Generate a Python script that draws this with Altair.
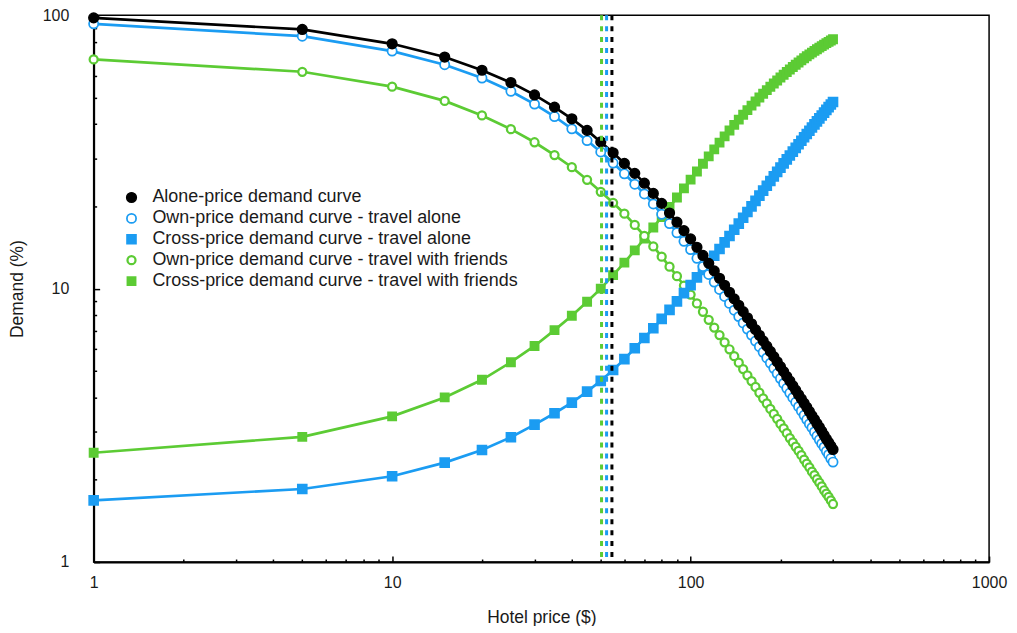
import altair as alt
import pandas as pd

# ---------------- data ----------------
prices = [1, 5, 10, 15, 20, 25, 30, 35, 40, 45, 50, 55, 60, 65, 70, 75, 80, 85, 90, 95,
          100, 105, 110, 115, 120, 125, 130, 135, 140, 145, 150, 155, 160, 165, 170, 175,
          180, 185, 190, 195, 200, 205, 210, 215, 220, 225, 230, 235, 240, 245, 250, 255,
          260, 265, 270, 275, 280, 285, 290, 295, 300]

alone_price = [97.8, 88.7, 78.6, 70.3, 62.9, 56.7, 51.1, 46.1, 41.8, 37.9, 34.4, 31.4, 28.7,
               26.4, 24.3, 22.3, 20.5, 18.9, 17.5, 16.3, 15.2,
               14.16, 13.22, 12.37, 11.61, 10.91, 10.28, 9.70, 9.17, 8.69, 8.24, 7.82, 7.44,
               7.08, 6.75, 6.44, 6.16, 5.89, 5.64, 5.40, 5.18, 4.97, 4.77, 4.59, 4.41, 4.25,
               4.09, 3.95, 3.81, 3.68, 3.55, 3.43, 3.32, 3.21, 3.11, 3.01, 2.91, 2.82, 2.74,
               2.66, 2.58]

own_alone = [93.0, 83.8, 73.9, 65.9, 58.9, 52.7, 47.3, 42.6, 38.4, 34.8, 31.6, 28.8, 26.3,
             24.1, 22.2, 20.4, 18.7, 17.3, 16.0, 14.9, 13.9,
             12.91, 12.05, 11.27, 10.57, 9.93, 9.36, 8.83, 8.34, 7.90, 7.49, 7.11, 6.76,
             6.43, 6.13, 5.85, 5.58, 5.34, 5.11, 4.89, 4.69, 4.50, 4.32, 4.15, 3.99, 3.84,
             3.70, 3.57, 3.44, 3.32, 3.20, 3.10, 2.99, 2.89, 2.80, 2.71, 2.63, 2.54, 2.47,
             2.39, 2.32]

cross_alone = [1.68, 1.85, 2.06, 2.31, 2.57, 2.86, 3.18, 3.50, 3.83, 4.20, 4.60, 5.04, 5.52,
               6.05, 6.60, 7.16, 7.75, 8.36, 8.98, 9.63, 10.30,
               10.99, 11.70, 12.43, 13.19, 13.96, 14.76, 15.58, 16.42, 17.28, 18.16, 19.07,
               19.99, 20.93, 21.88, 22.83, 23.79, 24.76, 25.74, 26.72, 27.71, 28.70, 29.70,
               30.69, 31.70, 32.70, 33.72, 34.73, 35.76, 36.78, 37.81, 38.84, 39.87, 40.90,
               41.93, 42.97, 44.01, 45.05, 46.09, 47.13, 48.17]

own_friends = [68.9, 62.1, 54.8, 48.6, 43.0, 38.3, 34.3, 30.8, 27.8, 25.0, 22.6, 20.6, 18.8,
               17.09, 15.59, 14.26, 13.09, 12.03, 11.10, 10.26, 9.51,
               8.83, 8.23, 7.69, 7.20, 6.76, 6.36, 6.00, 5.66, 5.36, 5.08, 4.82, 4.59, 4.37,
               4.16, 3.97, 3.80, 3.63, 3.48, 3.34, 3.20, 3.08, 2.96, 2.84, 2.74, 2.64, 2.55,
               2.46, 2.37, 2.29, 2.22, 2.14, 2.08, 2.01, 1.95, 1.89, 1.83, 1.78, 1.73, 1.68,
               1.63]

cross_friends = [2.51, 2.87, 3.41, 4.00, 4.64, 5.38, 6.17, 7.05, 7.96, 8.95, 10.0, 11.2, 12.45,
                 13.8, 15.24, 16.74, 18.28, 19.89, 21.54, 23.25, 25.03,
                 26.81, 28.61, 30.45, 32.31, 34.19, 36.05, 37.89, 39.70, 41.49, 43.25, 44.98,
                 46.69, 48.35, 50.02, 51.63, 53.21, 54.75, 56.24, 57.71, 59.17, 60.58, 61.96,
                 63.31, 64.63, 65.90, 67.16, 68.39, 69.58, 70.74, 71.88, 72.98, 74.05, 75.10,
                 76.12, 77.11, 78.07, 79.01, 79.92, 80.80, 81.66]

series_names = [
    "Alone-price demand curve",
    "Own-price demand curve - travel alone",
    "Cross-price demand curve - travel alone",
    "Own-price demand curve - travel with friends",
    "Cross-price demand curve - travel with friends",
]
line_keys = ["L0", "L1", "L2", "L3", "L4"]
series_values = [alone_price, own_alone, cross_alone, own_friends, cross_friends]

BLUE = "#1B9CF2"
GREEN = "#5CCB34"
series_strokes = ["#000000", BLUE, BLUE, GREEN, GREEN]
series_fills = ["#000000", "#FFFFFF", BLUE, "#FFFFFF", GREEN]
series_shapes = ["circle", "circle", "square", "circle", "square"]
series_sizes = [95, 55, 90, 55, 90]
series_widths = [1.5, 2.5, 1.5, 2.5, 1.5]

optimal_prices = [50.3, 52.3, 54.5]
optimal_colors = [GREEN, BLUE, "#000000"]

x_major = [1, 10, 100, 1000]
x_minor = [2, 3, 4, 5, 6, 7, 8, 9, 20, 30, 40, 50, 60, 70, 80, 90,
           200, 300, 400, 500, 600, 700, 800, 900]
y_major = [1, 10, 100]
y_minor = [2, 3, 4, 5, 6, 7, 8, 9, 20, 30, 40, 50, 60, 70, 80, 90]

# ---------------- build table (drawing order: black on top) ----------------
rows = []
for idx in [4, 3, 2, 1, 0]:
    for p, v in zip(prices, series_values[idx]):
        rows.append({"price": p, "demand": v, "series": series_names[idx],
                     "line_key": line_keys[idx]})
df = pd.DataFrame(rows)

W, H = 899, 549
FONT = "Liberation Sans"
TXT = "#1a1a1a"

x_scale = alt.Scale(type="log", domain=[1, 1000], nice=False)
y_scale = alt.Scale(type="log", domain=[1, 100], nice=False)

x_main_axis = alt.Axis(orient="bottom", values=x_major, ticks=False, grid=False,
                       format="d", domainColor="black", domainWidth=2, labelFont=FONT,
                       labelFontSize=16, labelColor=TXT, labelPadding=13,
                       labelFlush=False, labelOverlap=False,
                       title="Hotel price ($)", titleFont=FONT, titleFontSize=17.5,
                       titleFontWeight="normal", titleColor=TXT, titleX=W / 2,
                       titleY=56, titleAlign="center", titleBaseline="middle")
y_main_axis = alt.Axis(orient="left", values=y_major, ticks=False, grid=False,
                       format="d", domainColor="black", domainWidth=2, labelFont=FONT,
                       labelFontSize=16, labelColor=TXT, labelPadding=25,
                       labelOverlap=False, labelBaseline="middle",
                       title="Demand (%)", titleFont=FONT, titleFontSize=17.5,
                       titleFontWeight="normal", titleColor=TXT, titleX=-76,
                       titleY=H / 2, titleAngle=270, titleAlign="center",
                       titleBaseline="middle")

legend = alt.Legend(orient="none", legendX=29, legendY=174, title=None,
                    labelFont=FONT, labelFontSize=18, labelColor=TXT,
                    labelLimit=600, rowPadding=3, labelOffset=12, padding=0)

lines = alt.Chart(df).mark_line(strokeWidth=2.7).encode(
    x=alt.X("price:Q", scale=x_scale, axis=x_main_axis),
    y=alt.Y("demand:Q", scale=y_scale, axis=y_main_axis),
    color=alt.Color("line_key:N", scale=alt.Scale(domain=line_keys, range=series_strokes),
                    legend=None),
)

points = alt.Chart(df).mark_point(filled=True, opacity=1).encode(
    x=alt.X("price:Q", scale=x_scale, axis=None),
    y=alt.Y("demand:Q", scale=y_scale, axis=None),
    stroke=alt.Stroke("series:N", scale=alt.Scale(domain=series_names, range=series_strokes),
                      legend=legend),
    fill=alt.Fill("series:N", scale=alt.Scale(domain=series_names, range=series_fills),
                  legend=legend),
    shape=alt.Shape("series:N", scale=alt.Scale(domain=series_names, range=series_shapes),
                    legend=legend),
    size=alt.Size("series:N", scale=alt.Scale(domain=series_names, range=series_sizes),
                  legend=legend),
    strokeWidth=alt.StrokeWidth("series:N",
                                scale=alt.Scale(domain=series_names, range=series_widths),
                                legend=legend),
)


def tick_layer(xvals, yvals, size):
    return alt.Chart(df).mark_point(opacity=0).encode(
        x=alt.X("price:Q", scale=x_scale,
                axis=alt.Axis(orient="top", offset=-H, values=xvals, ticks=True,
                              tickSize=size, tickWidth=1.5, tickColor="black",
                              labels=False, domain=False, grid=False, title="")),
        y=alt.Y("demand:Q", scale=y_scale,
                axis=alt.Axis(orient="right", offset=-W, values=yvals, ticks=True,
                              tickSize=size, tickWidth=1.5, tickColor="black",
                              labels=False, domain=False, grid=False, title="")),
    )


major_ticks = tick_layer(x_major, y_major, 6)
minor_ticks = tick_layer(x_minor, y_minor, 3)

rules = []
for p, c in zip(optimal_prices, optimal_colors):
    rules.append(
        alt.Chart(pd.DataFrame({"price": [p]})).mark_rule(
            strokeDash=[5, 6], strokeWidth=3, color=c
        ).encode(x=alt.X("price:Q", scale=x_scale, axis=None))
    )

chart = alt.layer(lines, major_ticks, minor_ticks, points, *rules).resolve_axis(
    x="independent", y="independent"
).properties(
    width=W, height=H,
    padding={"left": 86, "top": 6, "right": 20, "bottom": 63},
    autosize=alt.AutoSizeParams(type="none"),
    background="white",
).configure_view(stroke="black", strokeWidth=1.5)

chart.save("out.html", embed_options={"renderer": "svg", "actions": False})
